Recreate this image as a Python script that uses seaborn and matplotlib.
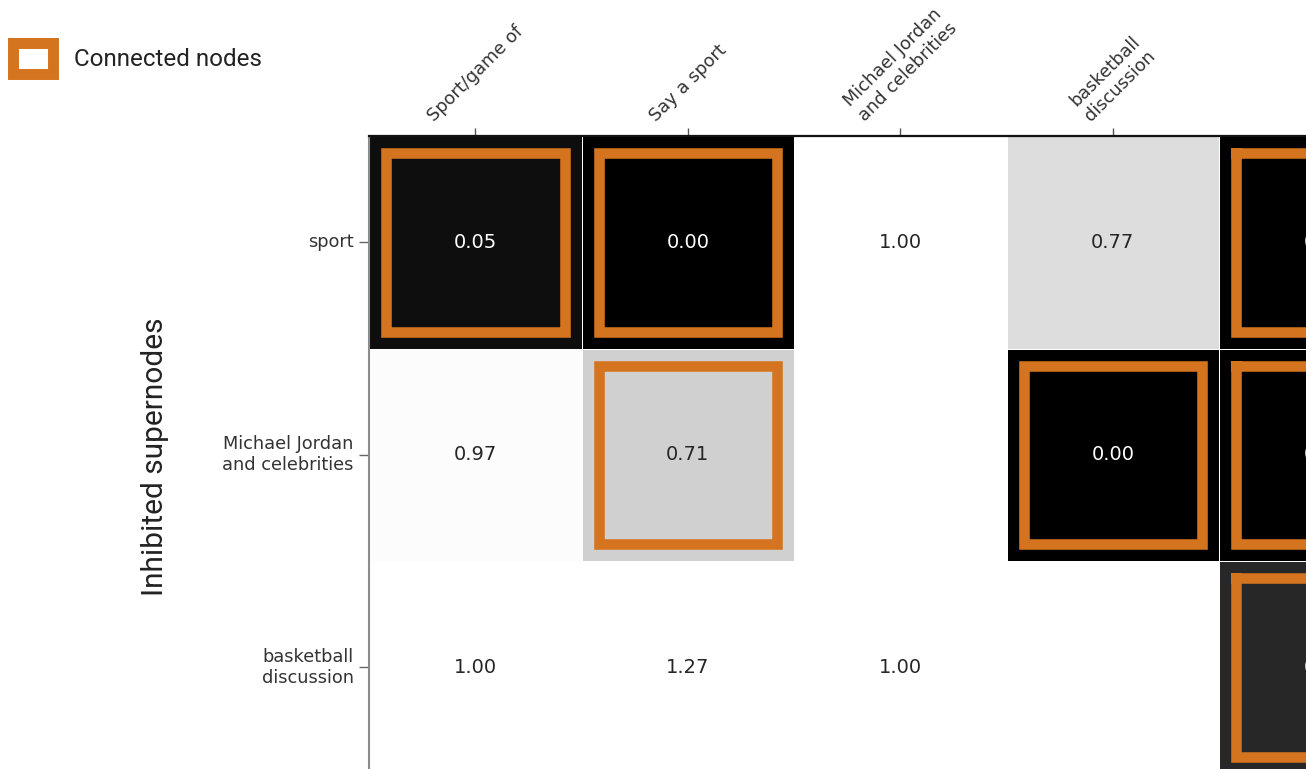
import numpy as np
import pandas as pd
import matplotlib
matplotlib.use("Agg")
import matplotlib.pyplot as plt
from matplotlib.patches import Rectangle
import seaborn as sns

# Target supernodes (columns) and inhibited supernodes (rows)
target_nodes = ["Sport/game of", "Say a sport", "Michael Jordan\nand celebrities",
                "basketball\ndiscussion", "Say"]
inhibited_nodes = ["sport", "Michael Jordan\nand celebrities", "basketball\ndiscussion"]

# Relative activation of each target after inhibiting a supernode (NaN = itself)
row_sport = [0.05, 0.00, 1.00, 0.77, 0.00]
row_jordan = [0.97, 0.71, np.nan, 0.00, 0.00]
row_basketball = [1.00, 1.27, 1.00, np.nan, 0.13]

# Whether the inhibited supernode is connected to the target supernode
connected_sport = [True, True, False, False, True]
connected_jordan = [False, True, False, True, True]
connected_basketball = [False, False, False, False, True]

ORANGE = "#d5741f"

values = pd.DataFrame([row_sport, row_jordan, row_basketball],
                      index=inhibited_nodes, columns=target_nodes)
connected = np.array([connected_sport, connected_jordan, connected_basketball])

W, H = 1306, 769
fig = plt.figure(figsize=(W / 100, H / 100), dpi=100)
fig.patch.set_facecolor("white")

# Axes positioned in pixels; it runs past the right and bottom edges
left_px, top_px, cell_px = 369, 136, 212.5
n_rows, n_cols = values.shape
ax = fig.add_axes([left_px / W, 1 - (top_px + n_rows * cell_px) / H,
                   n_cols * cell_px / W, n_rows * cell_px / H])

sns.heatmap(values, ax=ax, cmap="Greys_r", vmin=0, vmax=1, annot=True, fmt=".2f",
            cbar=False, linewidths=0.6, linecolor="white",
            annot_kws={"size": 14, "family": "DejaVu Sans"})

# Outline the connected pairs
for i in range(n_rows):
    for j in range(n_cols):
        if connected[i, j]:
            ax.add_patch(Rectangle((j + 0.08, i + 0.08), 0.84, 0.84, fill=False,
                                   edgecolor=ORANGE, linewidth=7.6, zorder=2.5,
                                   joinstyle="miter", capstyle="projecting"))

# Column labels on top, rotated
ax.xaxis.tick_top()
ax.tick_params(axis="x", top=True, bottom=False, labeltop=True, labelbottom=False,
               length=6, width=1, color="#555555", pad=2, labelsize=12.8,
               labelcolor="#333333")
plt.setp(ax.get_xticklabels(), rotation=45, ha="center", va="bottom")

ax.tick_params(axis="y", left=True, length=7, width=1, color="#666666", pad=4,
               labelsize=12.8, labelcolor="#333333")
plt.setp(ax.get_yticklabels(), rotation=0, ha="right", va="center",
         multialignment="right")

ax.set_xlabel("")
ax.set_ylabel("")

for side in ["top", "left"]:
    ax.spines[side].set_visible(True)
ax.spines["top"].set_color("#111111")
ax.spines["top"].set_linewidth(1.6)
ax.spines["left"].set_color("#8c8c8c")
ax.spines["left"].set_linewidth(1.5)

# Axis title for the rows
fig.text(155 / W, 1 - 457 / H, "Inhibited supernodes", rotation=90,
         ha="center", va="center", fontsize=21.5, family="Roboto", color="#222222")

# Legend entry for the outlined cells
fig.add_artist(Rectangle((13 / W, 1 - 74 / H), 40 / W, 31 / H,
                         transform=fig.transFigure, facecolor="white",
                         edgecolor=ORANGE, linewidth=7.9, joinstyle="miter"))
fig.text(74 / W, 1 - 60 / H, "Connected nodes", ha="left", va="center",
         fontsize=17.4, family="Roboto", color="#222222")

fig.savefig("out.png", dpi=100)
